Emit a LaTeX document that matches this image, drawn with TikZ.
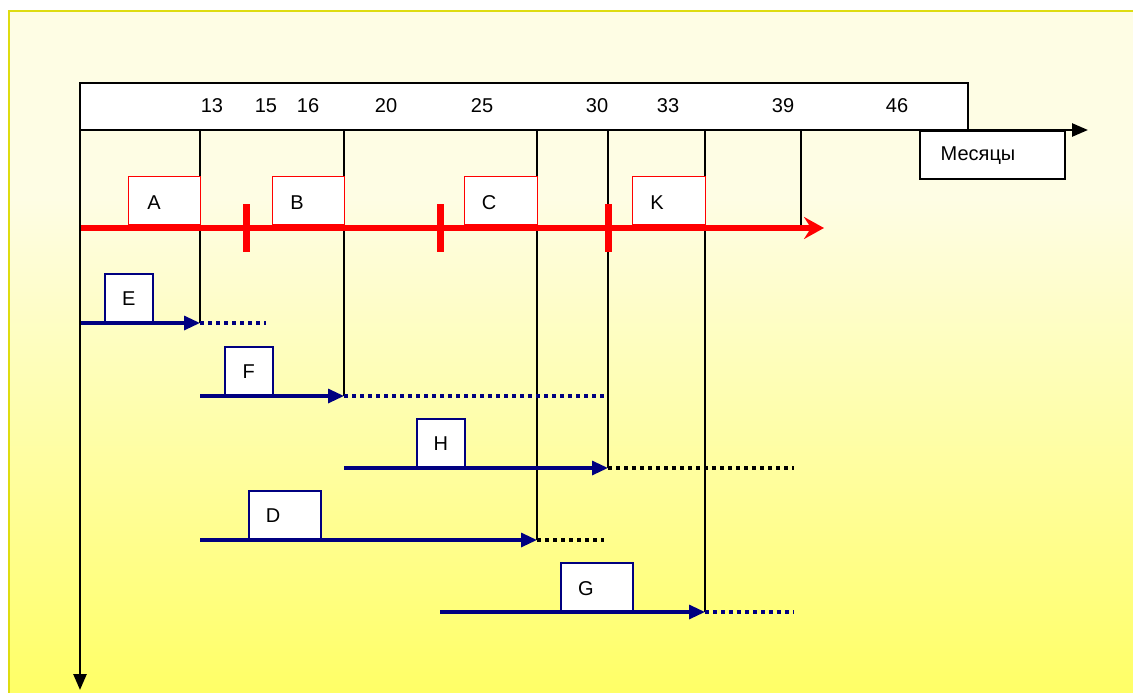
\documentclass[tikz,border=0pt]{standalone}
\usepackage{fontspec}
\setmainfont{Liberation Sans}
\usetikzlibrary{arrows.meta}
\definecolor{paneltop}{HTML}{FEFDE4}
\definecolor{panelbot}{HTML}{FFFF66}
\definecolor{panelline}{HTML}{DEDC10}
\definecolor{navy}{HTML}{000080}
\definecolor{redc}{HTML}{FF0000}
\begin{document}
\begin{tikzpicture}[x=1pt,y=-1pt,
  lbl/.style={font=\fontsize{20}{23}\selectfont, inner sep=0pt, anchor=center},
  hdrbox/.style={draw=black, line width=1.5pt, fill=white},
  redbox/.style={draw=redc, line width=1.3pt, fill=white},
  bluebox/.style={draw=navy, line width=1.6pt, fill=white, font=\fontsize{20}{23}\selectfont},
  axis/.style={black, line width=2.6pt},
  guide/.style={black, line width=1.1pt},
  redline/.style={redc, line width=6pt},
  redtick/.style={redc, line width=7pt},
  blueline/.style={navy, line width=3.2pt},
  bluedots/.style={navy, line width=3.5pt, dash pattern=on 3.5pt off 4.5pt},
  blackdots/.style={black, line width=3.5pt, dash pattern=on 3.5pt off 4.5pt},
  bluetip/.style={-{Triangle[length=16pt,width=14pt]}}
]
\useasboundingbox (0,0) rectangle (1133,693);
\fill[white] (0,0) rectangle (1133,693);
\fill[paneltop] (9,11) rectangle (1133,200);
\shade[top color=paneltop, bottom color=panelbot] (9,199) rectangle (1133,693);
\draw[panelline, line width=2.2pt] (9,693) -- (9,11) -- (1133,11);

% header
\node[hdrbox, minimum width=888pt, minimum height=47pt, inner sep=0pt] (hdr) at (524,106.5) {};
\node[lbl] (t13) at (212,106) {13};
\node[lbl] (t15) at (266,106) {15};
\node[lbl] (t16) at (308,106) {16};
\node[lbl] (t20) at (386,106) {20};
\node[lbl] (t25) at (482,106) {25};
\node[lbl] (t30) at (597,106) {30};
\node[lbl] (t33) at (668,106) {33};
\node[lbl] (t39) at (783,106) {39};
\node[lbl] (t46) at (897,106) {46};

% month box
\node[hdrbox, line width=1.3pt, minimum width=145pt, minimum height=48pt, inner sep=0pt] (mes) at (992.5,155) {};
\node[lbl] (mesl) at (978,156) {Месяцы};

% coordinates
\coordinate (O) at (80,130);
\coordinate (xend) at (1088,130);
\coordinate (yend) at (80,690);

% guide verticals
\coordinate (g1t) at (200,130); \coordinate (g1b) at (200,323);
\coordinate (g2t) at (344,130); \coordinate (g2b) at (344,396);
\coordinate (g3t) at (537,130); \coordinate (g3b) at (537,540);
\coordinate (g4t) at (608,130); \coordinate (g4b) at (608,468);
\coordinate (g5t) at (705,130); \coordinate (g5b) at (705,612);
\coordinate (g6t) at (801,130); \coordinate (g6b) at (801,228);
\foreach \i in {1,...,6} \draw[guide] (g\i t) -- (g\i b);

% red path
\coordinate (r0) at (80,228);
\coordinate (r1) at (824,228);
\draw[redline, -{Stealth[length=20pt,width=22pt,inset=7pt]}] (r0) -- (r1);
\coordinate (k1a) at (246,204); \coordinate (k1b) at (246,252);
\coordinate (k2a) at (440,204); \coordinate (k2b) at (440,252);
\coordinate (k3a) at (608,204); \coordinate (k3b) at (608,252);
\draw[redtick] (k1a) -- (k1b);
\draw[redtick] (k2a) -- (k2b);
\draw[redtick] (k3a) -- (k3b);

\node[redbox, minimum width=72pt, minimum height=48pt, inner sep=0pt, anchor=south west] (A) at (128,225) {};
\node[lbl] (Al) at (154,203) {A};
\node[redbox, minimum width=72pt, minimum height=48pt, inner sep=0pt, anchor=south west] (B) at (272,225) {};
\node[lbl] (Bl) at (297,203) {B};
\node[redbox, minimum width=73pt, minimum height=48pt, inner sep=0pt, anchor=south west] (C) at (464,225) {};
\node[lbl] (Cl) at (489,203) {C};
\node[redbox, minimum width=73pt, minimum height=48pt, inner sep=0pt, anchor=south west] (K) at (632,225) {};
\node[lbl] (Kl) at (657,203) {K};

% blue tasks
% E
\coordinate (e0) at (80,323); \coordinate (e1) at (200,323); \coordinate (e2) at (266,323);
\node[bluebox, minimum width=48pt, minimum height=48pt, inner sep=0pt, anchor=south west] (E) at (104,323) {E};
\draw[blueline, bluetip] (e0) -- (e1);
\draw[bluedots] (e1) -- (e2);
% F
\coordinate (f0) at (200,396); \coordinate (f1) at (344,396); \coordinate (f2) at (604,396);
\node[bluebox, minimum width=48pt, minimum height=48pt, inner sep=0pt, anchor=south west] (F) at (224,396) {F};
\draw[blueline, bluetip] (f0) -- (f1);
\draw[bluedots] (f1) -- (f2);
% H
\coordinate (h0) at (344,468); \coordinate (h1) at (608,468); \coordinate (h2) at (794,468);
\node[bluebox, minimum width=48pt, minimum height=48pt, inner sep=0pt, anchor=south west] (H) at (416,468) {H};
\draw[blueline, bluetip] (h0) -- (h1);
\draw[blackdots] (h1) -- (h2);
% D
\coordinate (d0) at (200,540); \coordinate (d1) at (537,540); \coordinate (d2) at (604,540);
\node[bluebox, minimum width=72pt, minimum height=48pt, inner sep=0pt, anchor=south west] (D) at (248,540) {};
\node[lbl] (Dl) at (273,516) {D};
\draw[blueline, bluetip] (d0) -- (d1);
\draw[blackdots] (d1) -- (d2);
% G
\coordinate (q0) at (440,612); \coordinate (q1) at (705,612); \coordinate (q2) at (794,612);
\node[bluebox, minimum width=72pt, minimum height=48pt, inner sep=0pt, anchor=south west] (G) at (560,612) {};
\node[lbl] (Gl) at (586,589) {G};
\draw[blueline, bluetip] (q0) -- (q1);
\draw[bluedots] (q1) -- (q2);

% axes
\draw[axis, -{Triangle[length=16pt,width=13pt]}] (O) -- (xend);
\draw[axis, -{Triangle[length=16pt,width=13pt]}] (O) -- (yend);
\end{tikzpicture}
\end{document}
